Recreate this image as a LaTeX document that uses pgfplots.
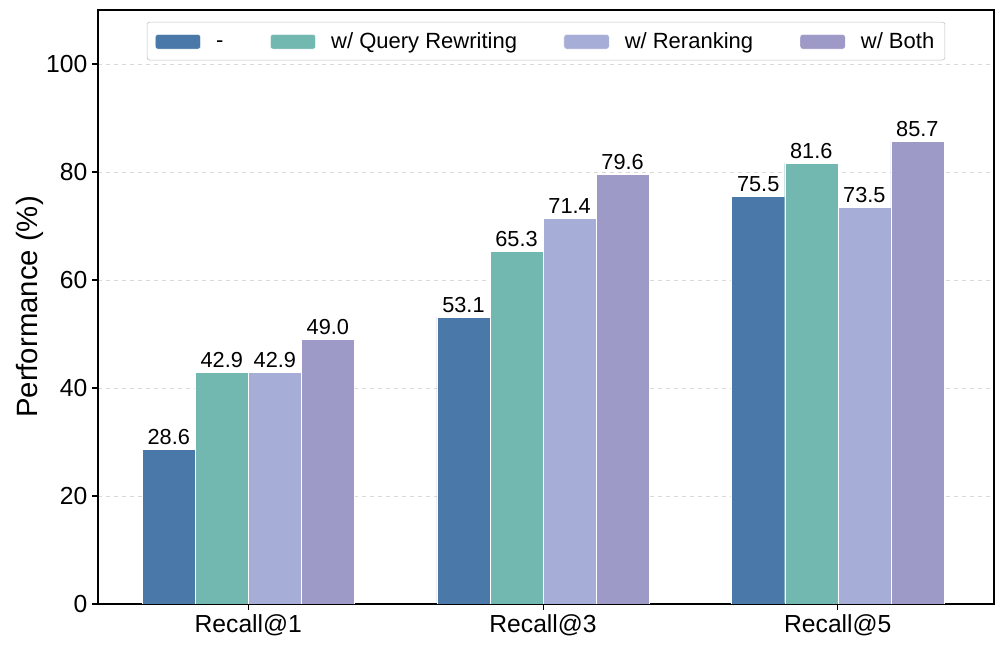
\documentclass[border=0pt]{standalone}
\usepackage{pgfplots}
\pgfplotsset{compat=1.18}
\usepackage{fontspec}
\setmainfont{Liberation Sans}

\definecolor{cBase}{HTML}{4A78A8}
\definecolor{cQuery}{HTML}{73B8B0}
\definecolor{cRerank}{HTML}{A6AED8}
\definecolor{cBoth}{HTML}{9E9AC8}

\begin{document}
\begin{tikzpicture}
\begin{axis}[
    scale only axis,
    width=672pt, height=445.5pt,
    ybar=0pt, bar width=0.18,
    xmin=-0.51, xmax=2.53,
    ymin=0, ymax=110,
    xtick={0,1,2},
    xticklabels={Recall@1,Recall@3,Recall@5},
    ytick={0,20,...,100},
    xtick pos=bottom, ytick pos=left,
    tick align=outside,
    major tick length=4.5pt,
    tick style={black, line width=0.8pt},
    axis line style={black, line width=0.8pt},
    ymajorgrids,
    grid style={dashed, black!15, line width=0.6pt},
    ticklabel style={font=\fontsize{18.5}{22}\selectfont},
    /pgf/number format/assume math mode=true,
    ylabel={Performance (\%)},
    ylabel style={font=\fontsize{22}{26}\selectfont, at={(axis description cs:-0.076,0.5)}, anchor=center},
    nodes near coords,
    nodes near coords style={font=\fontsize{16.3}{19}\selectfont, black, /pgf/number format/.cd, fixed, fixed zerofill, precision=1},
    legend columns=4,
    legend style={at={(0.5,0.98)}, anchor=north, draw=black!25, rounded corners=2pt,
        font=\fontsize{16.5}{20}\selectfont, inner xsep=6pt, inner ysep=5.5pt,
        /tikz/every odd column/.append style={column sep=9.5pt},
        /tikz/every even column/.append style={column sep=33pt}},
    legend image code/.code={\fill[#1] (0pt,-6pt) rectangle (34pt,5pt);},
    every axis plot/.append style={draw=white, line width=0.3pt},
]
\addplot[fill=cBase] coordinates {(0,28.6) (1,53.1) (2,75.5)};
\addplot[fill=cQuery] coordinates {(0,42.9) (1,65.3) (2,81.6)};
\addplot[fill=cRerank] coordinates {(0,42.9) (1,71.4) (2,73.5)};
\addplot[fill=cBoth] coordinates {(0,49.0) (1,79.6) (2,85.7)};
\legend{\vphantom{Bg}-, w/ Query Rewriting, w/ Reranking, w/ Both}
\path (rel axis cs:0,1) ++(-73.5pt,7.5pt) coordinate (bbTL);
\path (rel axis cs:1,0) ++(1.5pt,-36pt) coordinate (bbBR);
\end{axis}
\useasboundingbox (bbTL) rectangle (bbBR);
\end{tikzpicture}
\end{document}
